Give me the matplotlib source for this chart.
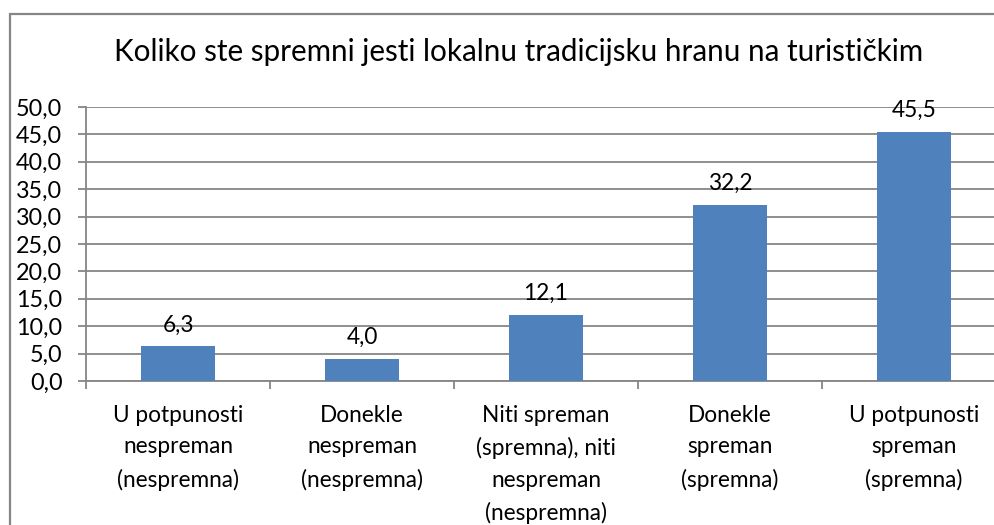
import matplotlib
matplotlib.use("Agg")
import matplotlib.pyplot as plt
from matplotlib.patches import Rectangle

categories = [
    "U potpunosti\nnespreman\n(nespremna)",
    "Donekle\nnespreman\n(nespremna)",
    "Niti spreman\n(spremna), niti\nnespreman\n(nespremna)",
    "Donekle\nspreman\n(spremna)",
    "U potpunosti\nspreman\n(spremna)",
]
values = [6.3, 4.0, 12.1, 32.2, 45.5]
title = "Koliko ste spremni jesti lokalnu tradicijsku hranu na turističkim"
yticks = [0, 5, 10, 15, 20, 25, 30, 35, 40, 45, 50]

plt.rcParams['font.family'] = ['Lato', 'DejaVu Sans']

W, H = 995, 525
fig = plt.figure(figsize=(W / 100, H / 100), dpi=100)
fig.patch.set_facecolor("white")

grey = "#868686"
# outer chart border
fig.patches.append(Rectangle((10 / W, -0.05), 1.0, (H - 14) / H + 0.05,
                             transform=fig.transFigure, fill=False,
                             edgecolor=grey, linewidth=1.6))

ax = fig.add_axes([86 / W, (H - 381) / H, 920 / W, 274 / H])
x = list(range(len(categories)))
ax.bar(x, values, width=0.4, color="#4F81BD", zorder=3)
ax.set_xlim(-0.5, len(categories) - 0.5)
ax.set_ylim(0, 50)
ax.set_yticks(yticks)
ax.set_yticklabels([f"{v:.1f}".replace(".", ",") for v in yticks], fontsize=16.8)
ax.yaxis.grid(True, color=grey, linewidth=1.3, zorder=0)
ax.set_axisbelow(True)

ax.set_xticks([i + 0.5 for i in range(-1, len(categories))], minor=False)
ax.set_xticklabels([])
ax.set_xticks(x, minor=True)
ax.set_xticklabels(categories, minor=True, fontsize=16.3, linespacing=1.63)
ax.tick_params(axis="x", which="minor", length=0, pad=17)
ax.tick_params(axis="x", which="major", length=6, color=grey, width=1.3, direction="out")
ax.tick_params(axis="y", length=6, color=grey, width=1.3, pad=11)

for s in ["top", "right"]:
    ax.spines[s].set_visible(False)
for s in ["left", "bottom"]:
    ax.spines[s].set_color(grey)
    ax.spines[s].set_linewidth(1.3)

for xi, v in zip(x, values):
    ax.annotate(f"{v:.1f}".replace(".", ","), (xi, v), xytext=(0, 8),
                textcoords="offset points", ha="center", va="bottom", fontsize=16.3)

fig.text(519 / W, 1 - 52 / H, title, ha="center", va="center", fontsize=21.3)

fig.savefig("out.png", dpi=100)
